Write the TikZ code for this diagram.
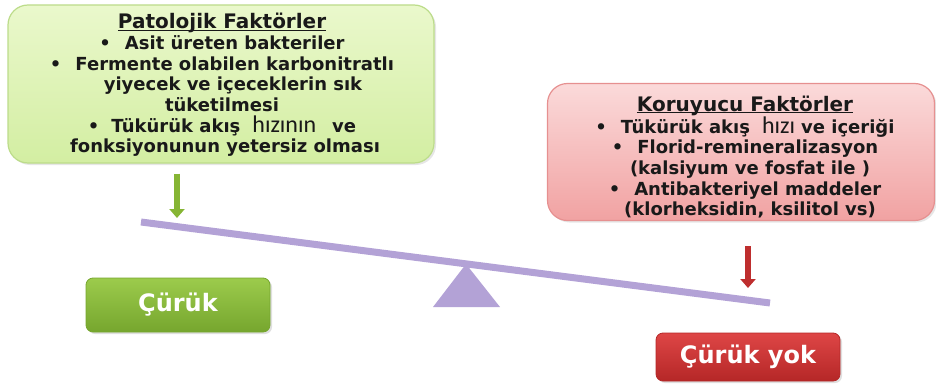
\documentclass[tikz,border=0pt]{standalone}
\usepackage{fontspec}
\setmainfont{DejaVu Sans}
\newfontfamily\hizfont{Carlito}
\usetikzlibrary{arrows.meta,shadows}

\definecolor{patfill}{HTML}{EAF8CC}
\definecolor{patfilldark}{HTML}{D3EEA2}
\definecolor{patedge}{HTML}{BCDC8A}
\definecolor{korfill}{HTML}{FBDADA}
\definecolor{korfilldark}{HTML}{F1A2A2}
\definecolor{koredge}{HTML}{E69090}
\definecolor{beam}{HTML}{B3A2D6}
\definecolor{btngreen}{HTML}{9CCB4C}
\definecolor{btngreendark}{HTML}{76A62E}
\definecolor{btnred}{HTML}{DE4646}
\definecolor{btnreddark}{HTML}{B52727}
\definecolor{arrgreen}{HTML}{86B534}
\definecolor{arrred}{HTML}{BE2E2E}

\tikzset{
  factorbox/.style={draw, rounded corners=20pt, line width=1.2pt,
    drop shadow={opacity=0.2, shadow xshift=2pt, shadow yshift=-2pt}},
  factortext/.style={align=center, text=black!90,
    font=\bfseries\fontsize{18}{20.7}\selectfont},
  resultbtn/.style={draw, rounded corners=7pt, line width=0.8pt, text=white,
    font=\bfseries\fontsize{24}{26}\selectfont, minimum width=184pt, minimum height=54pt,
    drop shadow={opacity=0.25, shadow xshift=2pt, shadow yshift=-2pt}},
  pusharrow/.style={line width=6pt, -{Triangle[width=15pt,length=9pt]}}
}

\newcommand{\hiz}[1]{{\hizfont\mdseries\fontsize{24}{20.7}\selectfont #1}}
\newcommand{\boxtitle}[1]{{\fontsize{20}{20.7}\selectfont
  \setbox0\hbox{#1}\rlap{\rule[-2.2pt]{\wd0}{1pt}}\box0}}

\begin{document}
\begin{tikzpicture}[x=1pt,y=-1pt]

	\useasboundingbox (0,0) rectangle (936,385);

	% factor boxes

	\node[factorbox, top color=patfill, bottom color=patfilldark, draw=patedge,
	      minimum width=426pt, minimum height=158pt] (pat) at (221,84) {};
	\node[factortext] (pattext) at (222,85)
	{\boxtitle{Patolojik Faktörler}\\
	 \textbullet\hspace{14pt}Asit üreten bakteriler\\
	 \textbullet\hspace{14pt}Fermente olabilen karbonitratlı\\
	 \hspace{22pt}yiyecek ve içeceklerin sık\\
	 tüketilmesi\\
	 \textbullet\hspace{12pt}Tükürük akış\hspace{12pt}\hiz{hızının}\hspace{16pt}ve\\
	 \hspace{6pt}fonksiyonunun yetersiz olması};

	\node[factorbox, top color=korfill, bottom color=korfilldark, draw=koredge,
	      minimum width=387pt, minimum height=137pt] (kor) at (741,152) {};
	\node[factortext] (kortext) at (745,157)
	{\boxtitle{Koruyucu Faktörler}\\
	 \textbullet\hspace{14pt}Tükürük akış\hspace{12pt}\hiz{hızı}\hspace{6pt}ve içeriği\\
	 \textbullet\hspace{14pt}Florid-remineralizasyon\\
	 \hspace{10pt}(kalsiyum ve fosfat ile )\\
	 \textbullet\hspace{14pt}Antibakteriyel maddeler\\
	 \hspace{10pt}(klorheksidin, ksilitol vs)};

	% seesaw

	\coordinate (bl) at (141,222);
	\coordinate (br) at (770,303);
	\draw[beam, line width=7pt] (bl) -- (br);
	\coordinate (apex) at (466,264);
	\fill[beam] (apex) -- (500,307) -- (433,307) -- cycle;

	% arrows onto the beam

	\coordinate (gtip) at (177,218);
	\coordinate (rtip) at (748,288);
	\draw[pusharrow, arrgreen] (pat.south -| gtip) ++(0,10) -- (gtip);
	\draw[pusharrow, arrred] (kor.south -| rtip) ++(0,25) -- (rtip);

	% results

	\node[resultbtn, top color=btngreen, bottom color=btngreendark, draw=btngreendark]
	      (curuk) at (178,305) {Çürük};
	\node[resultbtn, top color=btnred, bottom color=btnreddark, draw=btnreddark,
	      minimum height=48pt] (yok) at (748,357) {Çürük yok};

\end{tikzpicture}
\end{document}
